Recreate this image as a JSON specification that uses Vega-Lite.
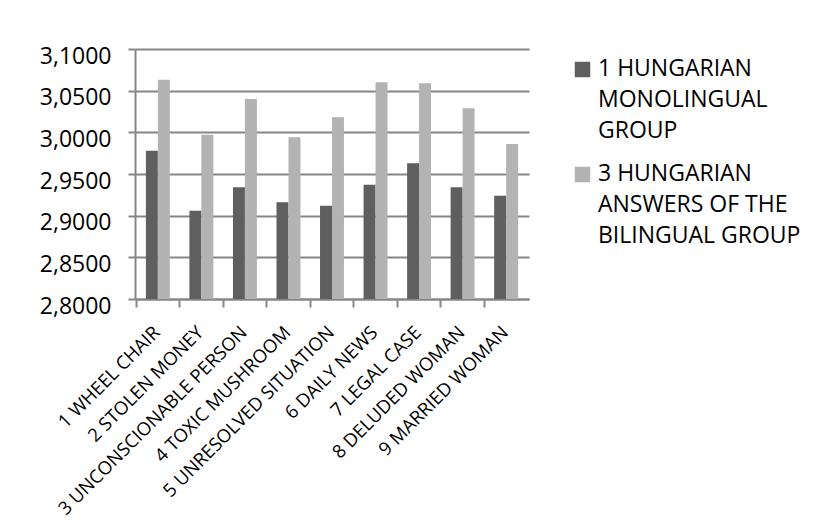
{
  "$schema": "https://vega.github.io/schema/vega-lite/v6.json",
  "autosize": "none",
  "width": 394,
  "height": 250,
  "padding": {"left": 135, "top": 49, "right": 305, "bottom": 232},
  "background": "white",
  "config": {
    "locale": {"number": {"decimal": ",", "thousands": " ", "grouping": [3], "currency": ["", ""]}},
    "view": {"stroke": null},
    "font": "Open Sans"
  },
  "data": {
    "values": [
      {"item": "1 WHEEL CHAIR", "group": "1 HUNGARIAN MONOLINGUAL GROUP", "value": 2.978},
      {"item": "1 WHEEL CHAIR", "group": "3 HUNGARIAN ANSWERS OF THE BILINGUAL GROUP", "value": 3.063},
      {"item": "2 STOLEN MONEY", "group": "1 HUNGARIAN MONOLINGUAL GROUP", "value": 2.906},
      {"item": "2 STOLEN MONEY", "group": "3 HUNGARIAN ANSWERS OF THE BILINGUAL GROUP", "value": 2.997},
      {"item": "3 UNCONSCIONABLE PERSON", "group": "1 HUNGARIAN MONOLINGUAL GROUP", "value": 2.934},
      {"item": "3 UNCONSCIONABLE PERSON", "group": "3 HUNGARIAN ANSWERS OF THE BILINGUAL GROUP", "value": 3.040},
      {"item": "4 TOXIC MUSHROOM", "group": "1 HUNGARIAN MONOLINGUAL GROUP", "value": 2.916},
      {"item": "4 TOXIC MUSHROOM", "group": "3 HUNGARIAN ANSWERS OF THE BILINGUAL GROUP", "value": 2.994},
      {"item": "5 UNRESOLVED SITUATION", "group": "1 HUNGARIAN MONOLINGUAL GROUP", "value": 2.912},
      {"item": "5 UNRESOLVED SITUATION", "group": "3 HUNGARIAN ANSWERS OF THE BILINGUAL GROUP", "value": 3.018},
      {"item": "6 DAILY NEWS", "group": "1 HUNGARIAN MONOLINGUAL GROUP", "value": 2.937},
      {"item": "6 DAILY NEWS", "group": "3 HUNGARIAN ANSWERS OF THE BILINGUAL GROUP", "value": 3.060},
      {"item": "7 LEGAL CASE", "group": "1 HUNGARIAN MONOLINGUAL GROUP", "value": 2.963},
      {"item": "7 LEGAL CASE", "group": "3 HUNGARIAN ANSWERS OF THE BILINGUAL GROUP", "value": 3.059},
      {"item": "8 DELUDED WOMAN", "group": "1 HUNGARIAN MONOLINGUAL GROUP", "value": 2.934},
      {"item": "8 DELUDED WOMAN", "group": "3 HUNGARIAN ANSWERS OF THE BILINGUAL GROUP", "value": 3.029},
      {"item": "9 MARRIED WOMAN", "group": "1 HUNGARIAN MONOLINGUAL GROUP", "value": 2.924},
      {"item": "9 MARRIED WOMAN", "group": "3 HUNGARIAN ANSWERS OF THE BILINGUAL GROUP", "value": 2.986}
    ]
  },
  "mark": {"type": "bar", "clip": true},
  "encoding": {
    "x": {
      "field": "item",
      "type": "nominal",
      "sort": null,
      "scale": {"paddingInner": 0.45, "paddingOuter": 0.25},
      "axis": {
        "title": null,
        "labelAngle": -45,
        "labelAlign": "right",
        "labelBaseline": "middle",
        "labelFont": "Open Sans",
        "labelFontSize": 18.5,
        "labelColor": "#000000",
        "labelLimit": 400,
        "labelPadding": 22,
        "labelOffset": -1,
        "labelOverlap": false,
        "domainColor": "#868686",
        "domainWidth": 2,
        "tickColor": "#868686",
        "tickWidth": 2,
        "tickSize": 8,
        "bandPosition": -0.41,
        "grid": false
      }
    },
    "xOffset": {"field": "group", "type": "nominal", "scale": {"paddingInner": 0}},
    "y": {
      "field": "value",
      "type": "quantitative",
      "scale": {"domain": [2.8, 3.1], "zero": false, "nice": false},
      "axis": {
        "title": null,
        "values": [2.8, 2.85, 2.9, 2.95, 3.0, 3.05, 3.1],
        "format": ".4f",
        "labelFont": "Open Sans",
        "labelFontSize": 23,
        "labelColor": "#000000",
        "labelPadding": 17,
        "labelOffset": 7,
        "domainColor": "#868686",
        "domainWidth": 2,
        "tickColor": "#868686",
        "tickWidth": 2,
        "tickSize": 7,
        "gridColor": "#868686",
        "gridWidth": 2
      }
    },
    "color": {
      "field": "group",
      "type": "nominal",
      "scale": {"range": ["#5f5f5f", "#b3b3b3"]},
      "legend": {
        "title": null,
        "orient": "right",
        "offset": 33,
        "padding": 9,
        "symbolType": "square",
        "symbolSize": 240,
        "symbolStrokeWidth": 0,
        "labelFont": "Open Sans",
        "labelFontSize": 23,
        "labelColor": "#000000",
        "labelLimit": 400,
        "labelBaseline": "top",
        "labelOffset": 4,
        "rowPadding": 19,
        "labelExpr": "datum.label == '1 HUNGARIAN MONOLINGUAL GROUP' ? ['1 HUNGARIAN', 'MONOLINGUAL', 'GROUP'] : ['3 HUNGARIAN', 'ANSWERS OF THE', 'BILINGUAL GROUP']",
        "encode": {"labels": {"update": {"lineHeight": {"value": 31}, "dy": {"value": -12}}}}
      }
    }
  }
}
